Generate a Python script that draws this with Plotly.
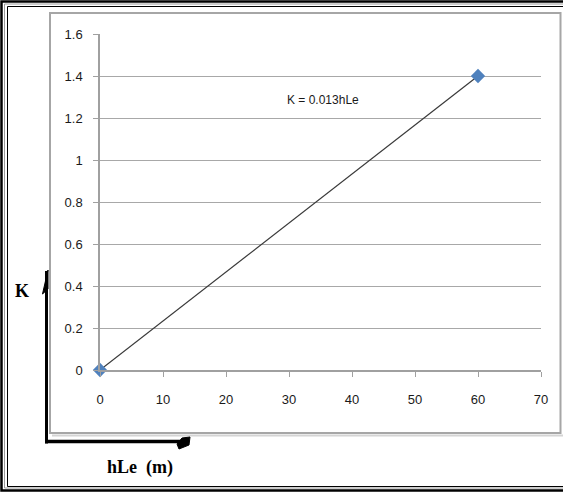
import plotly.graph_objects as go

# Measured points and the fitted line label
hle_values = [0, 60]
k_values = [0, 1.4]
fit_label = "K = 0.013hLe"

x_ticks = [0, 10, 20, 30, 40, 50, 60, 70]
y_ticks = [0, 0.2, 0.4, 0.6, 0.8, 1.0, 1.2, 1.4, 1.6]
y_tick_text = ["0", "0.2", "0.4", "0.6", "0.8", "1", "1.2", "1.4", "1.6"]

WIDTH, HEIGHT = 563, 492
LEFT, RIGHT, TOP, BOTTOM = 100, 22, 34, 122
PW = WIDTH - LEFT - RIGHT
PH = HEIGHT - TOP - BOTTOM


def px(x):
    return (x - LEFT) / PW


def py(y):
    return (TOP + PH - y) / PH


fig = go.Figure()

# trendline
fig.add_trace(go.Scatter(
    x=hle_values, y=k_values, mode="lines",
    line=dict(color="#3a3a3a", width=1.2), showlegend=False, hoverinfo="skip",
))
# data markers
fig.add_trace(go.Scatter(
    x=hle_values, y=k_values, mode="markers",
    marker=dict(symbol="diamond", size=11, color="#4f81bd",
                line=dict(color="#4f81bd", width=0)),
    showlegend=False, cliponaxis=False,
))

shapes = []
# outer double border
shapes.append(dict(type="rect", xref="paper", yref="paper",
                   x0=px(1.5), x1=px(570), y0=py(1.5), y1=py(490.5),
                   line=dict(color="#000000", width=2.5)))
shapes.append(dict(type="rect", xref="paper", yref="paper",
                   x0=px(4.5), x1=px(570), y0=py(4), y1=py(488),
                   line=dict(color="#9a9a9a", width=1)))
shapes.append(dict(type="rect", xref="paper", yref="paper",
                   x0=px(7.5), x1=px(570), y0=py(6.5), y1=py(486.5),
                   line=dict(color="#000000", width=1)))
# chart frame with soft shadow
shapes.append(dict(type="line", xref="paper", yref="paper",
                   x0=px(52), x1=px(563), y0=py(435.5), y1=py(435.5),
                   line=dict(color="#d4d4d4", width=2)))
shapes.append(dict(type="rect", xref="paper", yref="paper",
                   x0=px(50), x1=px(560.5), y0=py(13), y1=py(433),
                   line=dict(color="#a6a6a6", width=2)))
# hand-drawn axis arrows
shapes.append(dict(type="line", xref="paper", yref="paper",
                   x0=px(46.5), x1=px(46.5), y0=py(443.5), y1=py(271),
                   line=dict(color="#000000", width=3)))
shapes.append(dict(type="line", xref="paper", yref="paper",
                   x0=px(45), x1=px(184), y0=py(441.5), y1=py(441.5),
                   line=dict(color="#000000", width=3.5)))
up_head = f"M {px(48)},{py(270)} L {px(42.5)},{py(294)} L {px(48)},{py(289)} Z"
shapes.append(dict(type="path", xref="paper", yref="paper", path=up_head,
                   fillcolor="#000000", line=dict(color="#000000", width=1)))
right_head = (f"M {px(182)},{py(438)} L {px(190)},{py(437)} L {px(189)},{py(445)} "
              f"L {px(179)},{py(449)} L {px(177)},{py(444)} Z")
shapes.append(dict(type="path", xref="paper", yref="paper", path=right_head,
                   fillcolor="#000000", line=dict(color="#000000", width=1)))

annotations = [
    dict(x=px(323), y=py(100), xref="paper", yref="paper", text=fit_label,
         xanchor="center", yanchor="middle", showarrow=False,
         font=dict(family="Liberation Sans Narrow, Liberation Sans",
                   size=12, color="#1a1a1a")),
    dict(x=px(22), y=py(291), xref="paper", yref="paper", text="<b>K</b>",
         xanchor="center", yanchor="middle", showarrow=False,
         font=dict(family="Liberation Serif", size=18, color="#000000")),
    dict(x=px(140), y=py(467), xref="paper", yref="paper", text="<b>hLe  (m)</b>",
         xanchor="center", yanchor="middle", showarrow=False,
         font=dict(family="Liberation Serif", size=18, color="#000000")),
]

tick_font = dict(family="Liberation Sans Narrow, Liberation Sans", size=13, color="#1a1a1a")

fig.update_layout(
    width=WIDTH, height=HEIGHT,
    margin=dict(l=LEFT, r=RIGHT, t=TOP, b=BOTTOM, pad=0),
    paper_bgcolor="#ffffff", plot_bgcolor="#ffffff",
    shapes=shapes, annotations=annotations,
    xaxis=dict(range=[0, 70], tickvals=x_ticks, showgrid=False, zeroline=False,
               showline=True, linecolor="#a0a0a0", linewidth=1.5,
               ticks="outside", ticklen=5, tickcolor="#a0a0a0", tickwidth=1.2,
               ticklabelstandoff=12, tickfont=tick_font),
    yaxis=dict(range=[0, 1.6], tickvals=y_ticks, ticktext=y_tick_text,
               showgrid=True, gridcolor="#a8a8a8", gridwidth=1.2, zeroline=False,
               showline=True, linecolor="#a0a0a0", linewidth=1.5,
               ticks="outside", ticklen=5, tickcolor="#a0a0a0", tickwidth=1.2,
               ticklabelstandoff=8, tickfont=tick_font),
)

fig.write_html("out.html")
